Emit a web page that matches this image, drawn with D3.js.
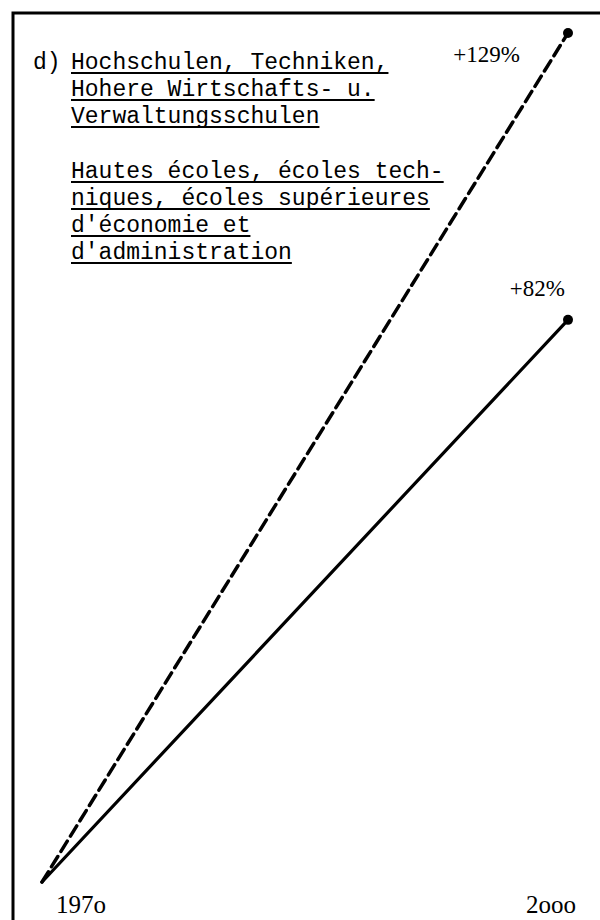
<!DOCTYPE html>
<html>
<head>
<meta charset="utf-8">
<script src="https://cdn.jsdelivr.net/npm/d3@7"></script>
<style>
  body { margin: 0; background: #fff; }
  svg { display: block; }
</style>
</head>
<body>
<div id="chart"></div>
<script>
// Data
var years = [1970, 2000];
var seriesNames = ["Hochschulen (Studierende)", "Hochschulen (Bevölkerung)"];
var dashedValues = [0, 129];   // +129 %
var solidValues  = [0, 82];    // +82 %
var endLabels    = ["+129%", "+82%"];
var yearLabels   = ["197o", "2ooo"];
var titleMark    = "d)";
var titleDe = ["Hochschulen, Techniken,", "Hohere Wirtschafts- u.", "Verwaltungsschulen"];
var titleFr = ["Hautes écoles, écoles tech-", "niques, écoles supérieures", "d'économie et", "d'administration"];

var width = 600, height = 920;
var mono = "'Liberation Mono', 'DejaVu Sans Mono', monospace";

var svg = d3.select("#chart")
            .append("svg")
            .attr("width", width)
            .attr("height", height);

// Frame: left and top edges only
svg.append("path")
   .attr("d", "M13,920 L13,13 L600,13")
   .attr("fill", "none")
   .attr("stroke", "#000")
   .attr("stroke-width", 3);

// Scales (hand drawn chart, growth is not quite linear on paper)
var x = d3.scaleLinear().domain([1970, 2000]).range([42, 568]);
var y = d3.scalePow().exponent(0.91).domain([0, 129]).range([882, 33]);

var series = [
    { name: seriesNames[0], values: dashedValues, dash: "12,6", width: 3.5 },
    { name: seriesNames[1], values: solidValues, dash: null, width: 3.2 }
];

var line = d3.line()
             .x(function(d, i) { return x(years[i]); })
             .y(function(d) { return y(d); });

svg.append("g")
   .selectAll("path")
   .data(series)
   .enter()
   .append("path")
   .attr("d", function(d) { return line(d.values); })
   .attr("fill", "none")
   .attr("stroke", "#000")
   .attr("stroke-width", function(d) { return d.width; })
   .attr("stroke-dasharray", function(d) { return d.dash; })
   .attr("stroke-linecap", "round");

// End dots
svg.append("g")
   .selectAll("circle")
   .data(series)
   .enter()
   .append("circle")
   .attr("cx", x(years[1]))
   .attr("cy", function(d) { return y(d.values[1]); })
   .attr("r", 5)
   .attr("fill", "#000");

// Percentage labels
svg.append("g")
   .selectAll("text")
   .data(series)
   .enter()
   .append("text")
   .attr("x", function(d, i) { return x(years[1]) - (i === 0 ? 48 : 3); })
   .attr("y", function(d, i) { return y(d.values[1]) + (i === 0 ? 29 : -24); })
   .attr("text-anchor", "end")
   .attr("font-family", "'Liberation Serif', serif")
   .attr("font-size", 23)
   .text(function(d, i) { return endLabels[i]; });

// Year labels
svg.append("g")
   .selectAll("text")
   .data(years)
   .enter()
   .append("text")
   .attr("x", function(d, i) { return x(d) + (i === 0 ? 39 : -17); })
   .attr("y", 913)
   .attr("text-anchor", "middle")
   .attr("font-family", "'Liberation Serif', serif")
   .attr("font-size", 25)
   .text(function(d, i) { return yearLabels[i]; });

// Title block, underlined typewriter lines
var lineGap = 27;
var textX = 71;
var fontSize = 23;

svg.append("text")
   .attr("x", 33)
   .attr("y", 69)
   .attr("font-family", mono)
   .attr("font-size", fontSize)
   .text(titleMark);

function drawBlock(lines, top) {
    var g = svg.append("g");
    var t = g.selectAll("text")
             .data(lines)
             .enter()
             .append("text")
             .attr("x", textX)
             .attr("y", function(d, i) { return top + i * lineGap; })
             .attr("font-family", mono)
             .attr("font-size", fontSize)
             .text(function(d) { return d; });
    t.each(function(d, i) {
        var w = this.getComputedTextLength();
        g.append("line")
         .attr("x1", textX)
         .attr("x2", textX + w)
         .attr("y1", top + i * lineGap + 4)
         .attr("y2", top + i * lineGap + 4)
         .attr("stroke", "#000")
         .attr("stroke-width", 2);
    });
}

drawBlock(titleDe, 69);
drawBlock(titleFr, 178);
</script>
</body>
</html>
